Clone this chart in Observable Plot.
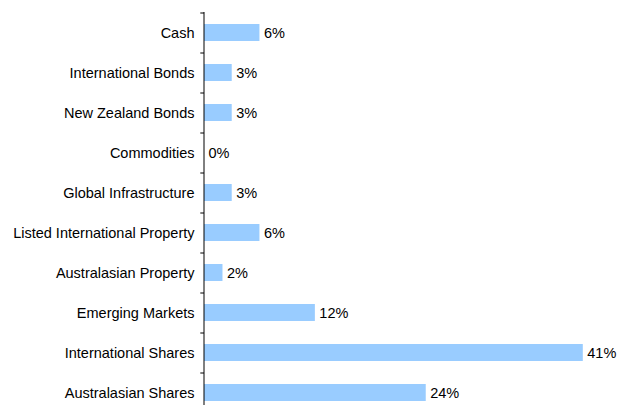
<!DOCTYPE html>
<html>
<head>
<meta charset="utf-8">
<script src="https://cdn.jsdelivr.net/npm/d3@7"></script>
<script src="https://cdn.jsdelivr.net/npm/@observablehq/plot@0.6"></script>
<style>
  html, body { margin: 0; padding: 0; background: #fff; }
  svg { font-family: "Liberation Sans", Arial, sans-serif; }
</style>
</head>
<body>
<div id="chart"></div>
<script>
const categories = [
  "Cash",
  "International Bonds",
  "New Zealand Bonds",
  "Commodities",
  "Global Infrastructure",
  "Listed International Property",
  "Australasian Property",
  "Emerging Markets",
  "International Shares",
  "Australasian Shares"
];
const values = [6, 3, 3, 0, 3, 6, 2, 12, 41, 24];
const labels = ["6%", "3%", "3%", "0%", "3%", "6%", "2%", "12%", "41%", "24%"];

const data = categories.map((c, i) => ({category: c, value: values[i], label: labels[i]}));

const chart = Plot.plot({
  width: 618,
  height: 405,
  marginTop: 12,
  marginBottom: 0,
  marginLeft: 204,
  marginRight: 0,
  style: {fontFamily: "Liberation Sans, Arial, sans-serif", fontSize: "14.5px", color: "#000", background: "#fff"},
  x: {domain: [0, 41], range: [204, 582.8], axis: null},
  y: {domain: categories, range: [12, 412], paddingInner: 0.575, paddingOuter: 0.2875, align: 0.5, label: null},
  marks: [
    Plot.barX(data, {y: "category", x: "value", fill: "#99ccff"}),
    Plot.text(data, {y: "category", x: "value", text: "label", textAnchor: "start", dx: 4, fill: "#000", fontSize: 14.5}),
    Plot.axisY({tickSize: 0, tickPadding: 10, fontSize: 14.5, fill: "#000", label: null}),
    Plot.ruleY(categories, {y: d => d, x1: -0.4, x2: 0, dy: -20, stroke: "#000", strokeWidth: 1}),
    Plot.ruleX([0], {stroke: "#000", strokeWidth: 1, dx: -0.5})
  ]
});
document.getElementById("chart").appendChild(chart);
</script>
</body>
</html>
